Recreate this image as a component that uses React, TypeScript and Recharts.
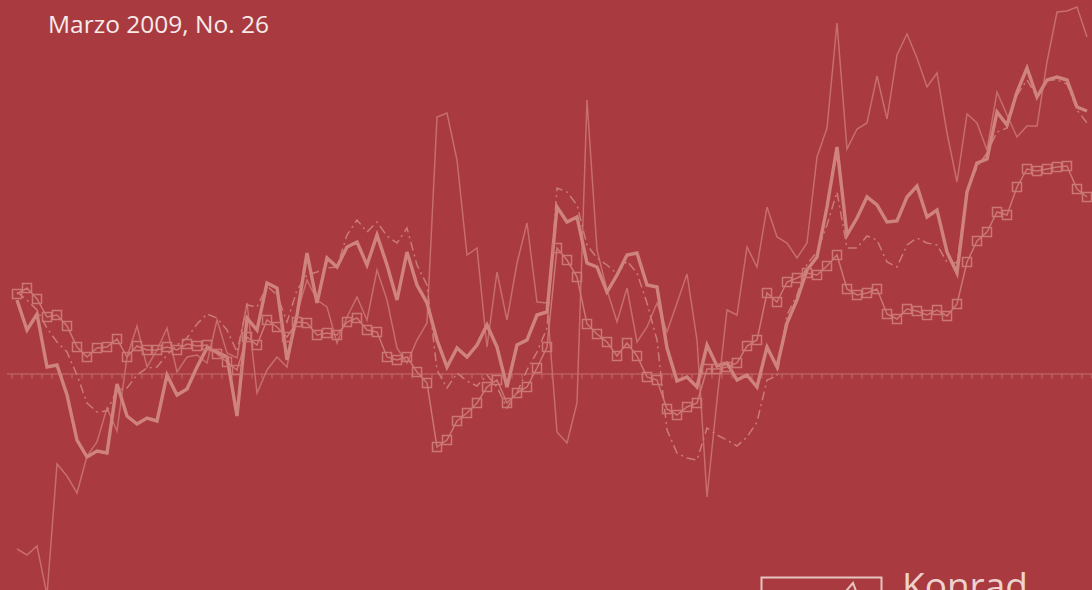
import { LineChart, Line, XAxis, YAxis, ReferenceLine } from "recharts";

// monthly index values, 108 points (2000-2008)
const THIN = [
  -17.5, -18.1, -17.2, -22.1, -9.0, -10.2, -11.9, -8.2, -6.8, -3.4,
  -5.7, 1.7, 4.8, 0.7, 2.4, 4.6, 0.2, 1.7, 1.9, 1.1,
  5.4, 2.1, 1.6, 7.1, -1.9, 0.4, 1.7, 0.7, 6.1, 9.4,
  7.4, 6.7, 3.1, 5.7, 7.7, 5.4, 10.4, 7.4, 2.6, 1.1,
  3.4, 5.1, 25.7, 26.1, 21.4, 11.9, 12.6, 2.7, 10.2, 5.4,
  11.1, 15.1, 7.2, 7.1, -5.8, -6.9, -2.9, 27.4, 12.4, 8.4,
  5.2, 8.6, 3.2, 4.7, 7.1, 4.2, 7.1, 10.0, 3.4, -12.3,
  -2.6, 6.4, 5.9, 12.7, 10.7, 16.7, 13.7, 13.1, 11.6, 13.1,
  21.7, 24.6, 35.1, 22.5, 24.5, 25.1, 29.8, 25.5, 31.9, 34.0,
  31.6, 28.7, 30.1, 24.1, 19.2, 26.0, 25.1, 22.4, 28.2, 25.9,
  23.7, 24.8, 24.8, 31.2, 36.2, 36.3, 36.7, 33.7,
];

const THICK = [
  7.4, 4.4, 6.0, 0.7, 0.9, -2.1, -6.6, -8.3, -7.7, -7.9,
  -1.0, -4.2, -5.0, -4.4, -4.7, -0.1, -2.1, -1.5, 0.7, 2.6,
  2.2, 1.7, -4.2, 5.6, 4.4, 9.1, 8.6, 1.4, 5.9, 12.1,
  7.1, 11.6, 10.7, 12.7, 13.2, 10.9, 13.9, 10.9, 7.4, 12.2,
  8.9, 7.1, 3.4, 0.7, 2.6, 1.7, 2.9, 4.9, 2.7, -1.3,
  2.9, 3.4, 5.9, 6.2, 16.7, 15.2, 15.7, 11.1, 10.7, 8.2,
  9.9, 11.9, 12.1, 8.9, 8.7, 2.6, -0.7, -0.3, -1.3, 2.9,
  0.8, 1.1, -0.6, -0.1, -1.3, 2.7, 0.7, 5.1, 7.4, 10.4,
  11.7, 16.7, 22.7, 13.9, 15.6, 17.7, 16.9, 15.2, 15.3, 17.7,
  18.8, 15.7, 16.4, 12.2, 10.1, 18.2, 21.1, 21.5, 26.2, 24.9,
  28.2, 30.6, 27.7, 29.4, 29.7, 29.4, 26.7, 26.3,
];

const SQUARES = [
  8.0, 8.6, 7.5, 5.7, 5.9, 4.8, 2.7, 1.7, 2.6, 2.7,
  3.5, 1.7, 2.8, 2.4, 2.4, 2.7, 2.4, 3.0, 2.8, 2.9,
  2.0, 1.2, 0.4, 3.7, 2.9, 5.4, 4.7, 3.7, 5.2, 5.1,
  3.9, 4.1, 3.9, 5.2, 5.6, 4.4, 4.2, 1.7, 1.4, 1.7,
  0.2, -0.9, -7.3, -6.6, -4.7, -3.9, -2.9, -1.3, -0.6, -2.9,
  -1.9, -1.3, 0.6, 2.7, 12.6, 11.4, 9.7, 5.0, 4.0, 3.2,
  1.8, 3.1, 1.8, -0.3, -0.6, -3.5, -4.1, -3.3, -2.9, 0.5,
  0.5, 0.7, 1.1, 2.8, 3.4, 8.1, 7.2, 9.2, 9.6, 10.1,
  9.9, 10.8, 11.9, 8.5, 7.9, 8.1, 8.5, 6.0, 5.5, 6.5,
  6.3, 5.9, 6.4, 5.8, 7.0, 11.2, 13.3, 14.2, 16.2, 15.9,
  18.7, 20.5, 20.3, 20.5, 20.7, 20.8, 18.5, 17.7,
];

const DASHED = [
  8.2, 7.4, 6.4, 4.6, 3.2, 2.2, -0.1, -2.9, -3.8, -3.7,
  -1.6, -1.4, -0.1, 0.6, 0.7, 1.9, 2.9, 3.6, 5.0, 6.0,
  5.6, 4.4, 2.2, 6.9, 6.7, 8.8, 7.9, 5.2, 8.4, 9.9,
  10.2, 10.6, 10.7, 13.9, 15.4, 14.2, 15.2, 13.8, 13.1, 14.6,
  10.9, 8.9, 0.4, -1.4, 0.1, -0.7, -1.2, -0.1, -1.3, -3.4,
  -1.9, 0.4, 2.2, 4.6, 18.6, 18.2, 16.9, 12.9, 11.6, 10.9,
  10.0, 11.3, 10.1, 7.1, 3.4, -5.6, -7.9, -8.4, -8.6, -5.4,
  -6.1, -6.6, -7.2, -6.3, -4.8, -0.6, -0.2, 5.9, 7.9, 11.0,
  12.2, 14.9, 18.2, 12.6, 12.6, 13.8, 13.4, 11.2, 10.7, 12.9,
  13.6, 13.1, 12.9, 11.2, 11.1, 18.2, 20.7, 22.1, 24.2, 24.6,
  27.9, 29.4, 27.7, 29.4, 29.4, 29.0, 26.4, 25.1,
];

const BG = "#A83A40";
const AXIS = "#C66E6C";

const rows = THIN.map((v, i) => ({
  i,
  thin: v,
  thick: THICK[i],
  squares: SQUARES[i],
  dashed: DASHED[i],
}));

const SquareDot = (props: any) => {
  const { cx, cy, index } = props;
  if (cx == null || cy == null) return null;
  return (
    <rect
      key={`sq-${index}`}
      x={cx - 4.5}
      y={cy - 4.5}
      width={9}
      height={9}
      fill="none"
      stroke="#CB7774"
      strokeWidth={1.5}
    />
  );
};

export default function App() {
  const tickPos = rows.map((r) => r.i - 0.5).concat([rows.length - 0.5]);

  return (
    <div
      style={{
        position: "fixed",
        left: 0,
        top: 0,
        width: 1092,
        height: 590,
        background: BG,
        overflow: "hidden",
      }}
    >
      <LineChart
        width={1092}
        height={590}
        data={rows}
        margin={{ top: 0, right: 0, bottom: 0, left: 0 }}
      >
        <XAxis type="number" dataKey="i" domain={[-1.7, 107.5]} hide allowDataOverflow />
        <YAxis type="number" domain={[-21.6, 37.4]} hide allowDataOverflow />
        <ReferenceLine
          segment={[
            { x: -1, y: 0 },
            { x: 107.5, y: 0 },
          ]}
          stroke={AXIS}
          strokeWidth={1}
        />
        {tickPos.map((p) => (
          <ReferenceLine
            key={`t${p}`}
            segment={[
              { x: p, y: 0 },
              { x: p, y: -0.45 },
            ]}
            stroke={AXIS}
            strokeWidth={1}
          />
        ))}
        <Line
          dataKey="thin"
          stroke="#C76E6C"
          strokeWidth={1.5}
          dot={false}
          activeDot={false}
          isAnimationActive={false}
        />
        <Line
          dataKey="dashed"
          stroke="#CC7B77"
          strokeWidth={1.5}
          strokeDasharray="9 4 2 4"
          dot={false}
          activeDot={false}
          isAnimationActive={false}
        />
        <Line
          dataKey="squares"
          stroke="#CB7774"
          strokeWidth={1.5}
          dot={SquareDot}
          activeDot={false}
          isAnimationActive={false}
        />
        <Line
          dataKey="thick"
          stroke="#D0837E"
          strokeWidth={3.4}
          strokeLinejoin="miter"
          dot={false}
          activeDot={false}
          isAnimationActive={false}
        />
      </LineChart>

      <svg
        width={1092}
        height={590}
        style={{ position: "absolute", left: 0, top: 0, pointerEvents: "none" }}
      >
        <text
          x={48}
          y={33}
          fill="#F7EAEA"
          fontFamily="'Open Sans', sans-serif"
          fontSize={24.5}
        >
          Marzo 2009, No. 26
        </text>
        <rect x={761.5} y={577.5} width={120} height={30} fill="none" stroke="#E6C4C0" strokeWidth={2} />
        <polyline points="846,591 853,583 856,591" fill="none" stroke="#E6C4C0" strokeWidth={2} />
        <text
          x={902}
          y={599}
          fill="#EDD2CE"
          fontFamily="'Open Sans', sans-serif"
          fontSize={37}
        >
          Konrad
        </text>
      </svg>
    </div>
  );
}
